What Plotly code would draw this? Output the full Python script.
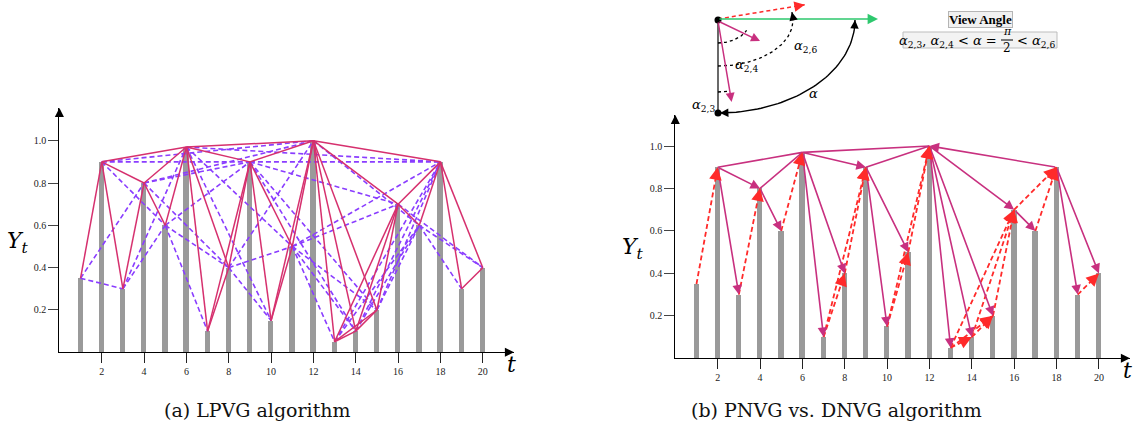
import numpy as np
import plotly.graph_objects as go

# ---- data -------------------------------------------------------------
t = list(range(1, 21))
y = [0.35, 0.9, 0.3, 0.8, 0.6, 0.97, 0.1, 0.4, 0.9, 0.15,
     0.5, 1.0, 0.05, 0.1, 0.2, 0.7, 0.6, 0.9, 0.3, 0.4]
x_ticks = [2, 4, 6, 8, 10, 12, 14, 16, 18, 20]
y_ticks = [0.2, 0.4, 0.6, 0.8, 1.0]

# directed edges of panel (b)
pnvg_arrows = [(2, 3), (2, 4), (4, 5), (6, 7), (6, 8), (6, 9), (9, 10), (9, 11),
               (12, 13), (12, 14), (12, 15), (12, 16), (16, 17), (18, 19),
               (18, 20), (18, 12)]
pnvg_links = [(2, 6), (4, 6), (6, 12), (9, 12)]
dnvg_arrows = [(1, 2), (3, 4), (5, 6), (7, 8), (7, 9), (8, 9), (10, 11),
               (10, 12), (11, 12), (13, 14), (13, 15), (13, 16), (14, 15),
               (14, 16), (15, 16), (16, 18), (17, 18), (19, 20)]

# view-angle sketch: node 2 looking at nodes 3, 4, 6
viewer = 2
viewed = [3, 4, 6]

W, H = 1137, 438
SERIF = "Liberation Serif"
MATH = "DejaVu Serif"
PINK_L = "#d6306e"
PINK_R = "#c8307f"
PURPLE = "#8a3dff"
RED = "#ff2a2a"
GREEN = "#2ec86e"
BAR = "#9a9a9a"

yv = dict(zip(t, y))


def n_blockers(i, j):
    cnt = 0
    for k in range(i + 1, j):
        line = yv[i] + (yv[j] - yv[i]) * (k - i) / (j - i)
        if yv[k] >= line - 1e-9:
            cnt += 1
    return cnt


nvg_edges, lpvg_edges = [], []
for i in t:
    for j in t:
        if j <= i:
            continue
        b = n_blockers(i, j)
        if b == 0:
            nvg_edges.append((i, j))
        elif b == 1:
            lpvg_edges.append((i, j))


def seg_xy(edges):
    xs, ys = [], []
    for i, j in edges:
        xs += [i, j, None]
        ys += [yv[i], yv[j], None]
    return xs, ys


# pixel geometry of the two panels
L = dict(x0=59.4, px=21.17, y0=352.3, py=211.6, xtip=514, ytip=108)
R = dict(x0=675.3, px=21.18, y0=358.3, py=212.3, xtip=1130, ytip=115)

fig = go.Figure()

# ---- panel (a): LPVG ---------------------------------------------------
fig.add_trace(go.Bar(x=t, y=y, width=0.25, marker=dict(color=BAR, line=dict(width=0)),
                     xaxis="x", yaxis="y", hoverinfo="skip"))
xs, ys = seg_xy(lpvg_edges)
fig.add_trace(go.Scatter(x=xs, y=ys, mode="lines", xaxis="x", yaxis="y",
                         line=dict(color=PURPLE, width=1.6, dash="5px,3px")))
xs, ys = seg_xy(nvg_edges)
fig.add_trace(go.Scatter(x=xs, y=ys, mode="lines", xaxis="x", yaxis="y",
                         line=dict(color=PINK_L, width=1.5)))

# ---- panel (b): PNVG vs DNVG -------------------------------------------
fig.add_trace(go.Bar(x=t, y=y, width=0.25, marker=dict(color=BAR, line=dict(width=0)),
                     xaxis="x2", yaxis="y2", hoverinfo="skip"))
xs, ys = seg_xy(dnvg_arrows)
fig.add_trace(go.Scatter(x=xs, y=ys, mode="lines", xaxis="x2", yaxis="y2",
                         line=dict(color=RED, width=1.8, dash="5px,3px")))
xs, ys = seg_xy(pnvg_links)
fig.add_trace(go.Scatter(x=xs, y=ys, mode="lines", xaxis="x2", yaxis="y2",
                         line=dict(color=PINK_R, width=1.6)))

annotations = []
shapes = []

for i, j in pnvg_arrows:
    annotations.append(dict(x=j, y=yv[j], ax=i, ay=yv[i], xref="x2", yref="y2",
                            axref="x2", ayref="y2", text="", showarrow=True,
                            arrowhead=2, arrowsize=1.2, arrowwidth=1.6,
                            arrowcolor=PINK_R, standoff=0))

for i, j in dnvg_arrows:
    dxp = (j - i) * R["px"]
    dyp = (yv[j] - yv[i]) * R["py"]
    n = np.hypot(dxp, dyp)
    back = 6.0
    annotations.append(dict(x=j, y=yv[j], ax=j - back * dxp / n / R["px"],
                            ay=yv[j] - back * dyp / n / R["py"],
                            xref="x2", yref="y2", axref="x2", ayref="y2", text="",
                            showarrow=True, arrowhead=2, arrowsize=1.4,
                            arrowwidth=1.8, arrowcolor=RED, standoff=0))

# axis arrowheads
for xa, ya, P in (("x", "y", L), ("x2", "y2", R)):
    xmax = (P["xtip"] - P["x0"]) / P["px"]
    ymax = (P["y0"] - P["ytip"]) / P["py"]
    annotations.append(dict(x=xmax, y=0, ax=xmax - 0.5, ay=0, xref=xa, yref=ya,
                            axref=xa, ayref=ya, text="", showarrow=True,
                            arrowhead=2, arrowsize=1.4, arrowwidth=1.3,
                            arrowcolor="black", standoff=0))
    annotations.append(dict(x=0, y=ymax, ax=0, ay=ymax - 0.05, xref=xa, yref=ya,
                            axref=xa, ayref=ya, text="", showarrow=True,
                            arrowhead=2, arrowsize=1.4, arrowwidth=1.3,
                            arrowcolor="black", standoff=0))

# ---- view-angle sketch (drawn in a pixel-scaled overlay) ---------------
O = np.array([718.0, 20.0])
B = np.array([718.0, 113.0])


def direction(j):
    v = np.array([(j - viewer) * R["px"], -(yv[j] - yv[viewer]) * R["py"]])
    return v / np.hypot(*v)


lengths = {3: 83, 4: 47, 6: 88}
tips = {j: O + lengths[j] * direction(j) for j in viewed}

# vertical reference and the two nodes
fig.add_trace(go.Scatter(x=[O[0], B[0]], y=[O[1], B[1]], mode="lines",
                         line=dict(color="#444444", width=1.6),
                         xaxis="x3", yaxis="y3"))
# green horizontal (alpha = pi/2)
annotations.append(dict(x=878, y=O[1] - 1, ax=O[0], ay=O[1] - 1, xref="x3", yref="y3",
                        axref="x3", ayref="y3", text="", showarrow=True,
                        arrowhead=2, arrowsize=1.3, arrowwidth=1.6,
                        arrowcolor=GREEN, standoff=0))
# red dashed toward node 6
tip6 = tips[6]
fig.add_trace(go.Scatter(x=[O[0], tip6[0]], y=[O[1] - 1, tip6[1]], mode="lines",
                         line=dict(color=RED, width=1.5, dash="4px,3px"),
                         xaxis="x3", yaxis="y3"))
d6 = direction(6)
annotations.append(dict(x=tip6[0], y=tip6[1], ax=tip6[0] - 6 * d6[0],
                        ay=tip6[1] - 6 * d6[1], xref="x3", yref="y3",
                        axref="x3", ayref="y3", text="", showarrow=True,
                        arrowhead=2, arrowsize=1.3, arrowwidth=1.6,
                        arrowcolor=RED, standoff=0))
# pink arrows toward nodes 3 and 4
for j in (3, 4):
    annotations.append(dict(x=tips[j][0], y=tips[j][1], ax=O[0], ay=O[1] + 1,
                            xref="x3", yref="y3", axref="x3", ayref="y3", text="",
                            showarrow=True, arrowhead=2, arrowsize=1.2,
                            arrowwidth=1.5, arrowcolor=PINK_R, standoff=0))


def arc(rx, ry, th_end, th_start=0.0, n=60):
    th = np.linspace(th_start, th_end, n)
    return O[0] + rx * np.sin(th), O[1] + ry * np.cos(th)


def arc_arrow(ax_, ay_, color, dash):
    fig.add_trace(go.Scatter(x=ax_, y=ay_, mode="lines", xaxis="x3", yaxis="y3",
                             line=dict(color=color, width=1.3, dash=dash)))
    annotations.append(dict(x=ax_[-1], y=ay_[-1], ax=ax_[-4], ay=ay_[-4],
                            xref="x3", yref="y3", axref="x3", ayref="y3", text="",
                            showarrow=True, arrowhead=2, arrowsize=1.2,
                            arrowwidth=1.4, arrowcolor=color, standoff=0))


angle = {j: np.arctan2(direction(j)[0], direction(j)[1]) for j in viewed}
arc_arrow(*arc(65, 72, angle[3]), "black", "3px,3px")
arc_arrow(*arc(32, 23, angle[4]), "black", "3px,3px")
arc_arrow(*arc(75, 46, angle[6]), "black", "3px,3px")

# solid arc for alpha, arrowheads at both ends
axs, ays = arc(137, 93, np.pi / 2)
fig.add_trace(go.Scatter(x=axs, y=ays, mode="lines", xaxis="x3", yaxis="y3",
                         line=dict(color="black", width=1.4)))
annotations.append(dict(x=axs[-1], y=ays[-1], ax=axs[-4], ay=ays[-4], xref="x3",
                        yref="y3", axref="x3", ayref="y3", text="", showarrow=True,
                        arrowhead=2, arrowsize=1.2, arrowwidth=1.4,
                        arrowcolor="black", standoff=0))
annotations.append(dict(x=axs[0] + 2, y=ays[0], ax=axs[3], ay=ays[3], xref="x3",
                        yref="y3", axref="x3", ayref="y3", text="", showarrow=True,
                        arrowhead=2, arrowsize=1.2, arrowwidth=1.4,
                        arrowcolor="black", standoff=0))

fig.add_trace(go.Scatter(x=[O[0], B[0]], y=[O[1], B[1]], mode="markers",
                         marker=dict(color="black", size=7),
                         xaxis="x3", yaxis="y3"))


def txt(x, yy, s, size, family=MATH, color="black", xanchor="center", **kw):
    d = dict(x=x, y=yy, xref="x3", yref="y3", text=s, showarrow=False,
             font=dict(family=family, size=size, color=color),
             xanchor=xanchor, yanchor="middle")
    d.update(kw)
    annotations.append(d)


txt(805, 46, "<i>α</i><sub>2,6</sub>", 13)
txt(746, 65, "<i>α</i><sub>2,4</sub>", 13)
txt(703, 105, "<i>α</i><sub>2,3</sub>", 13)
txt(813, 93, "<i>α</i>", 13)

# legend-like boxes
txt(980, 19, "<b>View Angle</b>", 13, family=SERIF, bgcolor="#f1f1f1",
    bordercolor="#b5b5b5", borderwidth=1, borderpad=0)
shapes.append(dict(type="rect", xref="x3", yref="y3", x0=903, x1=1057, y0=32, y1=48,
                   fillcolor="#f3f3f3", line=dict(color="#bdbdbd", width=1),
                   layer="below"))
txt(999, 41, "<i>α</i><sub>2,3</sub>, <i>α</i><sub>2,4</sub> &lt; <i>α</i> =", 13,
    xanchor="right")
txt(1007, 31, "<i>π</i>", 11)
shapes.append(dict(type="line", xref="x3", yref="y3", x0=1001, x1=1013, y0=40, y1=40,
                   line=dict(color="black", width=1)))
txt(1007, 48, "2", 12)
txt(1015, 41, "&lt; <i>α</i><sub>2,6</sub>", 13, xanchor="left")

# axis titles and captions
txt(18, 242, "<i>Y<sub>t</sub></i>", 22)
txt(633, 248, "<i>Y<sub>t</sub></i>", 22)
txt(511, 364, "<i>t</i>", 22)
txt(1127, 370, "<i>t</i>", 22)
txt(257, 410, "(a) LPVG algorithm", 19, family=MATH, color="#111")
txt(836, 410, "(b) PNVG vs. DNVG algorithm", 19, family=MATH, color="#111")


def axis_pair(P):
    xmax = (P["xtip"] - P["x0"]) / P["px"]
    ymax = (P["y0"] - P["ytip"]) / P["py"]
    xa = dict(domain=[P["x0"] / W, P["xtip"] / W], range=[0, xmax],
              showgrid=False, zeroline=False, showline=True, linecolor="black",
              linewidth=1.3, ticks="outside", ticklen=10, tickwidth=1.2,
              tickcolor="#222", tickvals=x_ticks, ticktext=[str(v) for v in x_ticks],
              tickfont=dict(family=SERIF, size=10, color="#222"), fixedrange=True)
    ya = dict(domain=[(H - P["y0"]) / H, (H - P["ytip"]) / H], range=[0, ymax],
              showgrid=False, zeroline=False, showline=True, linecolor="black",
              linewidth=1.3, ticks="outside", ticklen=10, tickwidth=1.2,
              tickcolor="#444", tickvals=y_ticks, ticktext=[f"{v:.1f}" for v in y_ticks],
              tickfont=dict(family=SERIF, size=10, color="#222"), fixedrange=True)
    return xa, ya


xa1, ya1 = axis_pair(L)
xa2, ya2 = axis_pair(R)
xa1["anchor"], ya1["anchor"] = "y", "x"
xa2["anchor"], ya2["anchor"] = "y2", "x2"

fig.update_layout(
    width=W, height=H, autosize=False,
    margin=dict(l=0, r=0, t=0, b=0),
    paper_bgcolor="white", plot_bgcolor="rgba(0,0,0,0)",
    showlegend=False, bargap=0,
    xaxis=xa1, yaxis=ya1, xaxis2=xa2, yaxis2=ya2,
    xaxis3=dict(domain=[0, 1], range=[0, W], visible=False, anchor="y3", fixedrange=True),
    yaxis3=dict(domain=[0, 1], range=[H, 0], visible=False, anchor="x3", fixedrange=True),
    annotations=annotations, shapes=shapes,
)

fig.write_html("out.html", config={"displayModeBar": False})
